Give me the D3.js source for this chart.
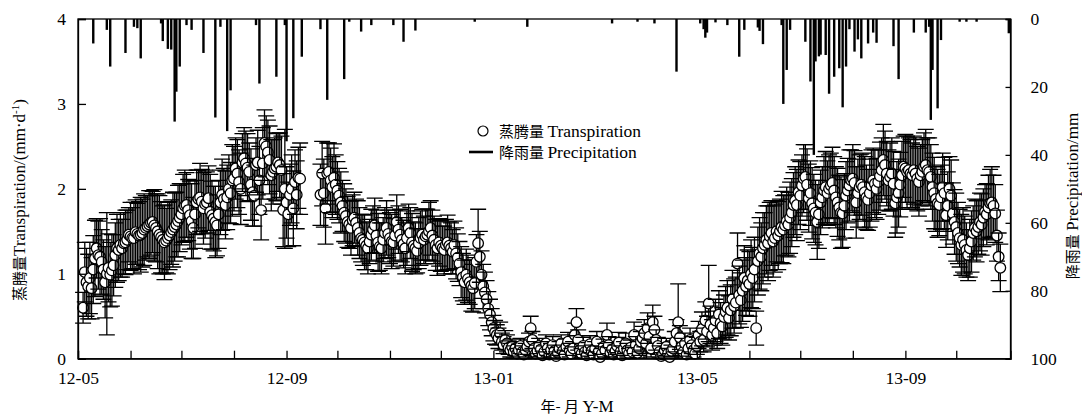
<!DOCTYPE html>
<html><head><meta charset="utf-8">
<script src="https://cdn.jsdelivr.net/npm/d3@7"></script>
<style>
html,body{margin:0;padding:0;background:#fff;}
svg text{font-family:"Liberation Serif","Times New Roman",serif;fill:#000;}
svg .tick text{font-family:"Liberation Serif","Times New Roman",serif !important;}
.cjk{font-family:"Noto Sans CJK SC","Noto Sans CJK JP",sans-serif;}
</style></head>
<body>
<svg id="chart" width="1082" height="417"></svg>
<script>
// ---------- DATA ----------
const xTickLabels = ["12-05","12-09","13-01","13-05","13-09"];
const yLeftTicks = [0,1,2,3,4];
const yRightTicks = [0,20,40,60,80,100];

// Segment 1: daily transpiration (mm/d) from 2012-05-04
const seg1Start = "2012-05-04";
const seg1T = [
0.60,1.02,0.90,0.85,0.95, 0.83,1.05,1.18,1.30,1.22, 1.20,1.14,1.05,0.90,1.00,
1.07,0.99,1.04,1.10,1.22, 1.30,1.28,1.34,1.30,1.36, 1.37,1.40,1.46,1.44,1.42,
1.42,1.49,1.47,1.45,1.46, 1.48,1.52,1.54,1.56,1.58, 1.60,1.61,1.57,1.54,1.50,
1.46,1.43,1.40,1.37,1.39, 1.42,1.45,1.49,1.52,1.55, 1.58,1.62,1.66,1.70,1.77,
1.80,1.81,1.75,1.69,1.62, 1.54,1.70,1.84,1.88,1.90, 1.85,1.77,1.82,1.84,1.89,
1.73,1.69,1.65,1.61,1.57, 1.70,1.84,1.93,1.88,1.81, 1.90,2.00,1.95,2.10,2.12,
2.24,2.18,2.08,2.00,2.31, 2.36,2.30,2.25,2.20,2.05, 1.96,1.92,2.28,2.31,2.10,
1.75,2.30,2.54,2.50,2.43, 2.34,2.16,2.20,2.24,2.26, 2.31,2.28,2.22,1.75,2.00,
1.84,1.70,1.93,2.00,1.77, 2.08,1.93,2.13,2.12];
const seg1E = [
0.18,0.35,0.40,0.38,0.42, 0.36,0.40,0.45,0.35,0.40, 0.45,0.38,0.35,0.42,0.72,
0.40,0.38,0.42,0.36,0.38, 0.40,0.36,0.38,0.34,0.36, 0.38,0.35,0.32,0.40,0.36,
0.42,0.38,0.36,0.40,0.44, 0.40,0.42,0.38,0.36,0.40, 0.38,0.36,0.42,0.40,0.44,
0.46,0.42,0.40,0.44,0.38, 0.42,0.40,0.38,0.44,0.40, 0.38,0.42,0.40,0.36,0.40,
0.42,0.38,0.36,0.40,0.44, 0.36,0.40,0.38,0.34,0.40, 0.38,0.42,0.40,0.36,0.38,
0.44,0.40,0.38,0.42,0.36, 0.40,0.38,0.42,0.36,0.40, 0.38,0.40,0.36,0.42,0.38,
0.36,0.40,0.38,0.42,0.34, 0.36,0.38,0.40,0.34,0.42, 0.40,0.36,0.32,0.38,0.40,
0.35,0.42,0.39,0.36,0.38, 0.40,0.42,0.38,0.36,0.40, 0.34,0.38,0.40,0.43,0.70,
0.42,0.38,0.36,0.40,0.44, 0.38,0.40,0.36,0.42];

// Segment 2: daily transpiration (mm/d) from 2012-09-21
const seg2Start = "2012-09-21";
const seg2T = [
1.93,2.18,1.95,1.77,2.18,2.20,2.10,2.02,2.13,2.05,
1.98,1.92,1.84,1.80,1.72,1.68,1.61,1.58,1.54,1.63,
1.66,1.60,1.54,1.48,1.42,1.40,1.37,1.33,1.30,1.38,
1.46,1.52,1.57,1.45,1.37,1.32,1.30,1.40,1.48,1.54,
1.47,1.42,1.38,1.37,1.45,1.61,1.52,1.46,1.40,1.35,
1.30,1.42,1.54,1.48,1.37,1.33,1.30,1.27,1.36,1.42,
1.46,1.40,1.44,1.46,1.50,1.54,1.45,1.40,1.34,1.30,
1.37,1.33,1.30,1.28,1.34,1.37,1.33,1.30,1.26,1.34,
1.24,1.19,1.12,1.02,0.96,0.90,0.99,0.94,0.90,0.86,
0.83,0.89,1.14,1.36,1.20,0.99,0.85,0.78,0.70,0.59,
0.52,0.43,0.36,0.31,0.28,0.24,0.30,0.20,0.16,0.22,
0.18,0.13,0.10,0.14,0.08,0.12,0.06,0.10,0.15,0.08,
0.05,0.10,0.14,0.20,0.36,0.22,0.12,0.06,0.09,0.15,
0.11,0.04,0.08,0.18,0.12,0.05,0.10,0.16,0.09,0.03,
0.07,0.12,0.18,0.09,0.05,0.14,0.20,0.10,0.06,0.12,
0.28,0.43,0.22,0.10,0.06,0.15,0.08,0.04,0.11,0.17,
0.09,0.05,0.12,0.20,0.08,0.02,0.06,0.14,0.10,0.28,
0.16,0.07,0.11,0.05,0.09,0.15,0.19,0.08,0.04,0.12,
0.18,0.10,0.06,0.13,0.08,0.28,0.16,0.07,0.12,0.20,
0.24,0.30,0.18,0.36,0.26,0.12,0.43,0.34,0.22,0.15,
0.08,0.03,0.05,0.10,0.14,0.06,0.02,0.09,0.12,0.20,
0.30,0.43,0.25,0.14,0.08,0.18,0.05,0.12,0.22,0.16,
0.10,0.06,0.15,0.28,0.20,0.35,0.22,0.45,0.32,0.65,
0.40,0.28,0.36,0.45,0.30,0.52,0.42,0.38,0.49,0.55,
0.60,0.48,0.57,0.70,0.62,0.66,1.12,0.75,0.69,0.80,
0.95,0.85,0.92,0.88,1.00,0.95,1.05,0.36,1.15,1.24,
1.20,1.30,1.34,1.40,1.36,1.44,1.48,1.38,1.42,1.50,
1.45,1.50,1.55,1.52,1.57,1.62,1.58,1.66,1.72,1.81,
1.86,1.81,1.96,1.92,2.04,2.12,2.14,2.05,1.89,1.95,
1.83,1.77,1.72,1.61,1.70,1.84,1.90,1.98,2.02,1.95,
2.00,2.04,2.07,1.98,1.90,1.84,1.78,1.72,1.71,1.80,
1.92,1.98,2.04,2.10,2.12,2.07,1.84,1.95,2.02,2.05,
2.02,1.96,1.90,1.87,1.95,2.04,2.10,2.06,2.00,2.08,
2.15,2.22,2.34,2.28,2.18,2.10,2.14,2.18,2.06,1.83,
1.90,1.95,2.05,2.16,2.26,2.24,2.20,2.22,2.18,2.16,
2.22,2.18,2.12,2.08,2.16,2.20,2.26,2.28,2.22,2.20,
2.14,2.02,1.95,1.88,1.83,1.81,1.90,2.02,1.95,1.69,
1.80,2.00,1.92,1.71,1.61,1.55,1.48,1.42,1.34,1.40,
1.34,1.28,1.22,1.30,1.38,1.48,1.54,1.50,1.55,1.61,
1.58,1.66,1.73,1.70,1.78,1.83,1.84,1.80,1.71,1.45,
1.20,1.07];
const seg2E = [
0.36,0.38,0.40,0.42,0.36,0.34,0.38,0.36,0.40,0.35,
0.34,0.32,0.36,0.30,0.34,0.32,0.30,0.28,0.32,0.30,
0.30,0.28,0.32,0.30,0.28,0.30,0.32,0.28,0.30,0.26,
0.30,0.28,0.32,0.30,0.34,0.28,0.30,0.26,0.30,0.32,
0.28,0.30,0.32,0.28,0.30,0.32,0.28,0.30,0.26,0.28,
0.30,0.32,0.28,0.30,0.34,0.28,0.30,0.26,0.30,0.32,
0.30,0.28,0.32,0.30,0.34,0.32,0.30,0.28,0.30,0.32,
0.28,0.30,0.26,0.28,0.30,0.32,0.28,0.30,0.26,0.28,
0.30,0.28,0.26,0.30,0.28,0.26,0.30,0.28,0.26,0.30,
0.28,0.30,0.32,0.40,0.30,0.28,0.26,0.24,0.22,0.20,
0.18,0.16,0.15,0.14,0.12,0.12,0.13,0.10,0.10,0.11,
0.10,0.08,0.08,0.09,0.07,0.08,0.06,0.07,0.09,0.07,
0.06,0.08,0.09,0.10,0.14,0.10,0.08,0.06,0.07,0.09,
0.08,0.05,0.07,0.10,0.08,0.06,0.08,0.10,0.07,0.05,
0.06,0.08,0.10,0.07,0.05,0.09,0.11,0.08,0.06,0.08,
0.14,0.16,0.12,0.08,0.06,0.10,0.07,0.05,0.08,0.10,
0.07,0.05,0.08,0.12,0.07,0.04,0.06,0.09,0.08,0.14,
0.10,0.06,0.08,0.05,0.07,0.10,0.12,0.07,0.05,0.08,
0.12,0.08,0.06,0.09,0.07,0.15,0.10,0.06,0.08,0.12,
0.14,0.16,0.12,0.18,0.14,0.10,0.20,0.16,0.12,0.10,
0.07,0.04,0.05,0.08,0.10,0.06,0.04,0.07,0.09,0.12,
0.16,0.45,0.14,0.10,0.07,0.12,0.05,0.09,0.14,0.10,
0.08,0.06,0.10,0.16,0.12,0.20,0.14,0.22,0.18,0.45,
0.22,0.18,0.20,0.25,0.18,0.28,0.24,0.22,0.26,0.30,
0.32,0.26,0.30,0.34,0.32,0.30,0.36,0.34,0.32,0.36,
0.38,0.34,0.36,0.38,0.40,0.36,0.38,0.20,0.40,0.42,
0.40,0.42,0.38,0.40,0.44,0.40,0.38,0.42,0.40,0.36,
0.40,0.38,0.42,0.40,0.36,0.40,0.38,0.42,0.40,0.38,
0.40,0.42,0.38,0.40,0.36,0.40,0.38,0.42,0.40,0.38,
0.42,0.40,0.38,0.44,0.40,0.38,0.36,0.40,0.42,0.38,
0.40,0.38,0.42,0.40,0.36,0.40,0.38,0.42,0.40,0.38,
0.40,0.38,0.42,0.36,0.40,0.38,0.42,0.40,0.38,0.36,
0.40,0.42,0.38,0.36,0.40,0.42,0.38,0.40,0.36,0.38,
0.40,0.38,0.42,0.40,0.38,0.36,0.40,0.42,0.38,0.40,
0.42,0.40,0.38,0.40,0.36,0.40,0.42,0.38,0.40,0.38,
0.40,0.42,0.38,0.40,0.36,0.38,0.40,0.42,0.38,0.40,
0.38,0.40,0.42,0.38,0.40,0.36,0.38,0.40,0.42,0.38,
0.40,0.38,0.42,0.36,0.38,0.40,0.36,0.34,0.36,0.38,
0.34,0.32,0.30,0.34,0.36,0.32,0.34,0.36,0.32,0.34,
0.36,0.34,0.32,0.36,0.38,0.40,0.42,0.36,0.34,0.30,
0.28,0.28];

// Precipitation events (mm)
const rainDates = ["2012-05-10","2012-05-18","2012-05-20","2012-05-29","2012-06-03","2012-06-05","2012-06-07","2012-06-19","2012-06-20","2012-06-23","2012-06-25","2012-06-27","2012-06-28","2012-06-30","2012-07-04","2012-07-07","2012-07-14","2012-07-21","2012-07-24","2012-07-28","2012-07-30","2012-08-14","2012-08-16","2012-08-26","2012-08-31","2012-09-01","2012-09-05","2012-09-10","2012-09-21","2012-09-25","2012-10-05","2012-10-08","2012-10-15","2012-10-21","2012-11-03","2012-11-09","2012-11-16","2012-12-21","2013-01-21","2013-03-12","2013-03-27","2013-04-06","2013-04-19","2013-05-03","2013-05-05","2013-05-06","2013-05-07","2013-05-12","2013-05-19","2013-05-26","2013-05-29","2013-06-06","2013-06-07","2013-06-09","2013-06-20","2013-06-21","2013-06-23","2013-06-25","2013-07-04","2013-07-07","2013-07-09","2013-07-10","2013-07-12","2013-07-13","2013-07-16","2013-07-18","2013-07-21","2013-07-24","2013-07-26","2013-07-28","2013-07-30","2013-08-02","2013-08-04","2013-08-06","2013-08-10","2013-08-13","2013-08-15","2013-08-25","2013-08-28","2013-09-06","2013-09-13","2013-09-15","2013-09-16","2013-09-17","2013-09-20","2013-09-22","2013-10-03","2013-10-07","2013-10-13","2013-11-01"];
const rainMm = [7.2,3.2,14,10,2.3,2.7,11.6,1.3,6.5,8.8,9.0,30.2,21.4,14,1.8,3.2,10,29,2.3,33,21,1.8,19,17,1.8,36,29.2,11.1,3,23.8,17.7,0.8,3.7,1.8,1.8,6.7,3.4,0.8,2.3,1.3,0.8,1.3,15.5,1.3,3,5.5,4,1.0,1.8,11.1,3.2,2.5,3.5,7.4,1.8,25,15,3.2,6.7,18.4,40,12.5,11,10.5,10.6,22,17,14.5,26,14,3,9.6,6,11.6,7.2,4,7,8,17.7,4,4,2.3,29.7,15,26.3,6.2,0.8,0.8,0.8,4.2];

// ---------- CHART ----------
const parse = d3.utcParse("%Y-%m-%d");
const svg = d3.select("#chart");
const L = 78, R = 1010.5, T = 19, B = 358.7;
const SERIF = '"Liberation Serif","Times New Roman",serif';

const x = d3.scaleUtc().domain([parse("2012-05-01"), parse("2013-11-02")]).range([L, R]);
const y = d3.scaleLinear().domain([0, 4]).range([B, T]);
const y2 = d3.scaleLinear().domain([0, 100]).range([T, B]);

function buildSeg(start, vals, errs) {
  const s = parse(start);
  return vals.map((v, i) => ({date: d3.utcDay.offset(s, i), v: v, e: errs[i]}));
}
const points = buildSeg(seg1Start, seg1T, seg1E).concat(buildSeg(seg2Start, seg2T, seg2E));
const rain = rainDates.map((d, i) => ({date: parse(d), mm: rainMm[i]}));

// precipitation bars (hanging from top)
svg.append("g").selectAll("rect").data(rain).join("rect")
  .attr("x", d => x(d.date) - 1.2)
  .attr("y", y2(0))
  .attr("width", 2.4)
  .attr("height", d => y2(d.mm) - y2(0))
  .attr("fill", "#000");

// transpiration: error bars + circles
const capW = 8;
const pg = svg.append("g").selectAll("g").data(points).join("g");
pg.append("path")
  .attr("d", d => {
    const cx = x(d.date), yt = y(d.v + d.e), yb = y(Math.max(0, d.v - d.e));
    return `M${cx},${yt}V${yb}M${cx - capW},${yt}H${cx + capW}M${cx - capW},${yb}H${cx + capW}`;
  })
  .attr("stroke", "#000").attr("stroke-width", 1.3).attr("fill", "none");
pg.append("circle")
  .attr("cx", d => x(d.date)).attr("cy", d => y(d.v)).attr("r", 5.3)
  .attr("fill", "#fff").attr("stroke", "#000").attr("stroke-width", 1.3);

// frame
svg.append("rect").attr("x", L).attr("y", T).attr("width", R - L).attr("height", B - T)
  .attr("fill", "none").attr("stroke", "#000").attr("stroke-width", 1.3);

// axes
const monthTicks = d3.utcMonth.range(parse("2012-05-01"), parse("2013-11-01"));
const fmt = d3.utcFormat("%y-%m");
const xAxis = d3.axisBottom(x).tickValues(monthTicks).tickSize(-8).tickPadding(13)
  .tickFormat(d => xTickLabels.includes(fmt(d)) ? fmt(d) : "");
const gx = svg.append("g").attr("transform", `translate(0,${B})`).call(xAxis);

const gy = svg.append("g").attr("transform", `translate(${L},0)`)
  .call(d3.axisLeft(y).tickValues(yLeftTicks).tickSize(-8).tickPadding(12).tickFormat(d3.format("d")));

const gy2 = svg.append("g").attr("transform", `translate(${R},0)`)
  .call(d3.axisRight(y2).tickValues(yRightTicks).tickSize(-5).tickPadding(20).tickFormat(d3.format("d")));

[gx, gy, gy2].forEach(g => {
  g.attr("font-family", SERIF).attr("font-size", 17.5);
  g.select(".domain").attr("stroke", "#000").attr("stroke-width", 1.3);
  g.selectAll(".tick line").attr("stroke", "#000").attr("stroke-width", 1.3);
  g.selectAll(".tick text").style("font-family", SERIF).style("font-size", "17.5px").attr("fill", "#000");
});

// axis titles
const ttl = svg.append("text").attr("transform", "translate(25,200) rotate(-90)")
  .attr("text-anchor", "middle").style("font-family", SERIF).style("font-size", "17px");
ttl.append("tspan").attr("class", "cjk").style("font-size", "15px").text("蒸腾量");
ttl.append("tspan").text("Transpiration/(mm·d");
ttl.append("tspan").style("font-size", "11px").attr("baseline-shift", "super").text("-1");
ttl.append("tspan").text(")");

const ttr = svg.append("text").attr("transform", "translate(1078,196) rotate(-90)")
  .attr("text-anchor", "middle").style("font-family", SERIF).style("font-size", "17px");
ttr.append("tspan").attr("class", "cjk").style("font-size", "15px").text("降雨量 ");
ttr.append("tspan").text("Precipitation/mm");

const ttx = svg.append("text").attr("x", 577).attr("y", 412).attr("text-anchor", "middle")
  .style("font-family", SERIF).style("font-size", "17px");
ttx.append("tspan").attr("class", "cjk").style("font-size", "15px").text("年- 月 ");
ttx.append("tspan").text("Y-M");

// legend
svg.append("circle").attr("cx", 483).attr("cy", 131).attr("r", 5)
  .attr("fill", "#fff").attr("stroke", "#000").attr("stroke-width", 1.2);
const l1 = svg.append("text").attr("x", 499).attr("y", 137).style("font-family", SERIF).style("font-size", "17.5px");
l1.append("tspan").attr("class", "cjk").style("font-size", "15px").text("蒸腾量 ");
l1.append("tspan").text("Transpiration");
svg.append("line").attr("x1", 469).attr("x2", 493).attr("y1", 152).attr("y2", 152)
  .attr("stroke", "#000").attr("stroke-width", 2.6);
const l2 = svg.append("text").attr("x", 499).attr("y", 158).style("font-family", SERIF).style("font-size", "17.5px");
l2.append("tspan").attr("class", "cjk").style("font-size", "15px").text("降雨量 ");
l2.append("tspan").text("Precipitation");
</script>
</body></html>
